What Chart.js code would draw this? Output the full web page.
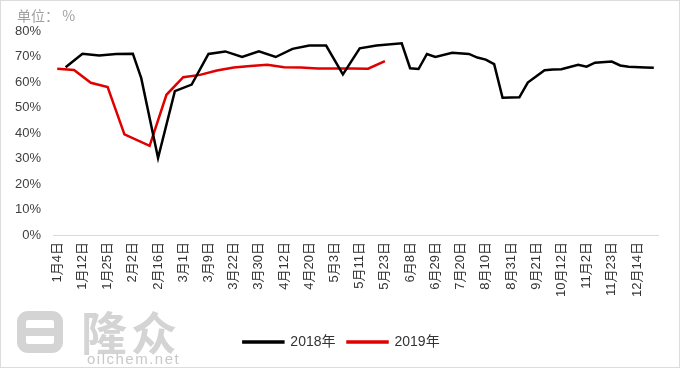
<!DOCTYPE html>
<html>
<head>
<meta charset="utf-8">
<script src="https://cdn.jsdelivr.net/npm/chart.js@4.4.1/dist/chart.umd.min.js"></script>
<style>
  html, body { margin: 0; padding: 0; background: #fff; }
  #wrap { position: relative; width: 680px; height: 368px; box-sizing: border-box; border: 1px solid #dcdcdc; overflow: hidden; }
  #unit { position: absolute; left: 16px; top: 4px; font: 14px "Noto Sans CJK SC", sans-serif; color: #a0a0a0; }
  #logo { position: absolute; left: 16px; top: 310px; width: 46px; height: 42px; box-sizing: border-box; border: 9px solid #d4d4d4; border-radius: 11px; }
  #logo:after { content: ""; position: absolute; left: 0; right: -9px; top: 8px; height: 8px; background: #d4d4d4; }
  #brand { position: absolute; left: 80px; top: 296px; font: bold 46px "Noto Sans CJK SC", sans-serif; color: #d4d4d4; letter-spacing: 4px; }
  #site { position: absolute; left: 86px; top: 349px; font: 15px "Liberation Sans", Arial, sans-serif; color: #c8c8c8; letter-spacing: 1.5px; }
</style>
</head>
<body>
<div id="wrap">
  <canvas id="chart" width="678" height="366"></canvas>
  <div id="unit">单位： %</div>
  <div id="logo"></div>
  <div id="brand">隆众</div>
  <div id="site">oilchem.net</div>
</div>
<script>
// 横轴上显示的日期（每三个类别一个）
const tickLabels = ["1月4日", "1月12日", "1月25日", "2月2日", "2月16日", "3月1日", "3月9日", "3月22日",
  "3月30日", "4月12日", "4月20日", "5月3日", "5月11日", "5月23日", "6月8日", "6月29日",
  "7月20日", "8月10日", "8月31日", "9月21日", "10月12日", "11月2日", "11月23日", "12月14日"];

// 共72个类别，未标注的类别留空
const categories = [];
for (let i = 0; i < 72; i++) {
  categories.push(i % 3 === 0 ? tickLabels[i / 3] : "");
}

// 2018年开工率 (%)，null 处由折线直接相连
const series2018 = [
  null, 65.8, null, 71.1, null, 70.4, null, 71.0, null, 71.1,
  61.5, null, 30.2, null, 56.4, null, 59.0, null, 71.0, null,
  72.0, null, 69.8, null, 72.0, null, 69.8, null, 73.0, null,
  74.3, null, 74.3, null, 63.0, null, 73.2, null, 74.3, null,
  null, 75.2, 65.4, 65.1, 71.0, 69.8, null, 71.5, null, 71.0,
  69.6, 68.8, 67.0, 53.8, null, 54.0, 59.8, null, 64.6, 64.9,
  65.0, null, 66.8, 66.0, 67.6, null, 68.0, 66.5, 66.0, null,
  65.7, 65.6
];

// 2019年开工率 (%)
const series2019 = [
  65.2, null, 64.7, null, 59.7, null, 58.0, null, 39.5, null,
  null, 35.0, null, 55.0, null, 61.9, null, 62.8, null, 64.5,
  null, 65.7, null, 66.3, null, 66.8, null, 65.8, null, 65.7,
  null, 65.3, null, 65.3, null, 65.3, null, 65.2, null, 68.2
];

const yTicks = [0, 10, 20, 30, 40, 50, 60, 70, 80];

const fontFamily = '"Liberation Sans", Arial, "Noto Sans CJK SC", sans-serif';

// 图例整体稍向右移
const legendShift = {
  id: "legendShift",
  afterLayout(chart) {
    chart.legend.left += 11;
    chart.legend.right += 11;
  },
};

new Chart(document.getElementById("chart").getContext("2d"), {
  type: "line",
  data: {
    labels: categories,
    datasets: [
      {
        label: "2018年",
        data: series2018,
        borderColor: "#000000",
        backgroundColor: "#000000",
        borderWidth: 2.5,
        pointRadius: 0,
        tension: 0,
        spanGaps: true,
      },
      {
        label: "2019年",
        data: series2019,
        borderColor: "#e00000",
        backgroundColor: "#e00000",
        borderWidth: 2.5,
        pointRadius: 0,
        tension: 0,
        spanGaps: true,
      },
    ],
  },
  plugins: [legendShift],
  options: {
    responsive: false,
    animation: false,
    layout: { padding: { left: 2, right: 21, top: 30, bottom: 8 } },
    plugins: {
      tooltip: { enabled: false },
      legend: {
        position: "bottom",
        labels: {
          boxWidth: 40,
          boxHeight: 1,
          padding: 12,
          color: "#333",
          font: { family: fontFamily, size: 14 },
        },
      },
    },
    scales: {
      x: {
        offset: true,
        grid: { display: false, drawTicks: false },
        border: { display: true, color: "#d9d9d9", width: 1 },
        ticks: {
          autoSkip: false,
          maxRotation: 90,
          minRotation: 90,
          padding: 7,
          color: "#333",
          font: { family: fontFamily, size: 13 },
        },
        // 给横轴标签与图例之间留出空白
        afterFit: (axis) => {
          axis.height += 19;
        },
      },
      y: {
        min: 0,
        max: 80,
        grid: { display: false, drawTicks: false },
        border: { display: false },
        afterBuildTicks: (axis) => {
          axis.ticks = yTicks.map((v) => ({ value: v }));
        },
        ticks: {
          padding: 12,
          color: "#404040",
          font: { family: fontFamily, size: 13 },
          callback: (v) => v + "%",
        },
      },
    },
  },
});
</script>
</body>
</html>
